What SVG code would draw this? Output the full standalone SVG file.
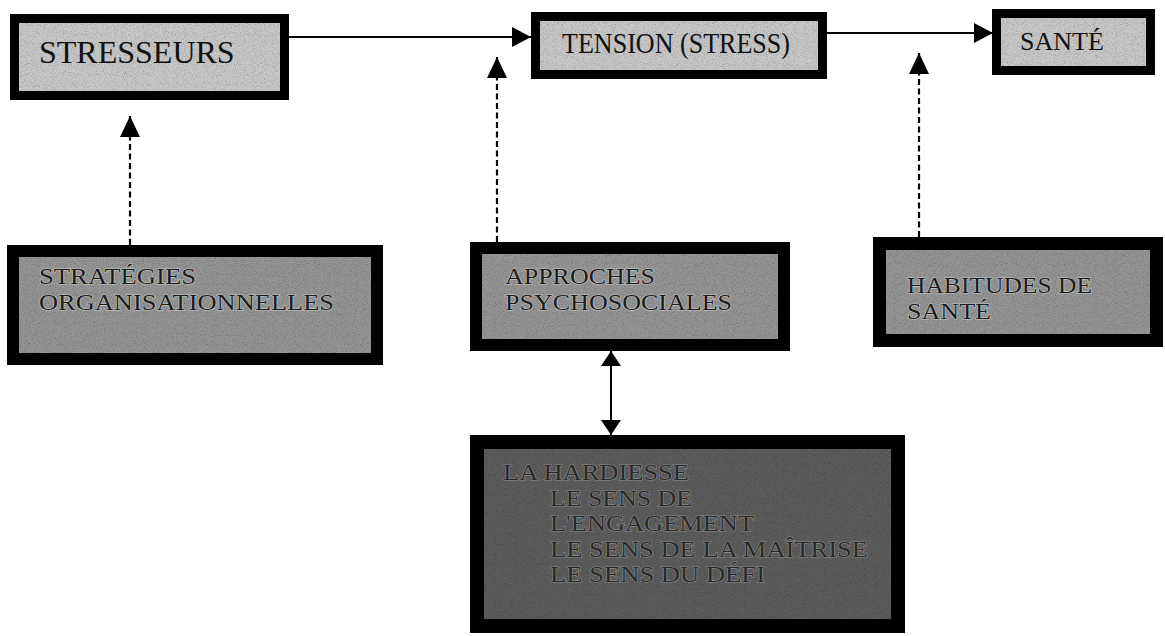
<svg xmlns="http://www.w3.org/2000/svg" width="1165" height="636" viewBox="0 0 1165 636">
<style>
.bg{fill:#ffffff}
.light{fill:#c8c8c8;filter:url(#grain)}
.mid{fill:#959595;filter:url(#grain)}
.dark{fill:#5c5c5c;filter:url(#grain)}
.frame{fill:none;stroke:#000}
.t1{font-family:"Liberation Serif","Times New Roman",serif;fill:#111}
.t2{font-family:"Liberation Serif","Times New Roman",serif;font-size:23px;fill:#1c1c1c;stroke:#c4c4c4;stroke-width:1.2;paint-order:stroke fill}
.t3{font-family:"Liberation Serif","Times New Roman",serif;font-size:23px;fill:#2a2a2a;stroke:#8a8a8a;stroke-width:1.2;paint-order:stroke fill}
.solid{fill:none;stroke:#000;stroke-width:2}
.dash{fill:none;stroke:#000;stroke-width:2.2;stroke-dasharray:6 3.5}
</style>
<defs>
<filter id="grain" x="0" y="0" width="1" height="1" color-interpolation-filters="sRGB">
<feTurbulence type="fractalNoise" baseFrequency="1.1" numOctaves="1" seed="4" result="n"/>
<feColorMatrix in="n" type="matrix" values="0.33 0.33 0.33 0 0.48  0.33 0.33 0.33 0 0.48  0.33 0.33 0.33 0 0.48  0 0 0 0 1" result="g"/>
<feBlend in="g" in2="SourceGraphic" mode="multiply" result="b"/>
<feComposite in="b" in2="SourceGraphic" operator="in"/>
</filter>
<marker id="ah" viewBox="0 0 19 20" markerWidth="19" markerHeight="20" refX="19" refY="10" orient="auto" markerUnits="userSpaceOnUse">
<path d="M0,0 L19,10 L0,20 Z" fill="#000"/>
</marker>
<marker id="av" viewBox="0 0 21 20" markerWidth="21" markerHeight="20" refX="21" refY="10" orient="auto" markerUnits="userSpaceOnUse">
<path d="M0,0 L21,10 L0,20 Z" fill="#000"/>
</marker>
<marker id="ad" viewBox="0 0 15 20" markerWidth="15" markerHeight="20" refX="15" refY="10" orient="auto-start-reverse" markerUnits="userSpaceOnUse">
<path d="M0,0 L15,10 L0,20 Z" fill="#000"/>
</marker>
</defs>
<rect class="bg" x="0" y="0" width="1165" height="636"/>

<g id="connectors">
<line class="solid" x1="289" y1="37" x2="531" y2="37" marker-end="url(#ah)"/>
<line class="solid" x1="827" y1="33" x2="993" y2="33" marker-end="url(#ah)"/>
<line class="dash" x1="130" y1="245" x2="130" y2="116" marker-end="url(#av)"/>
<line class="dash" x1="497" y1="242" x2="497" y2="57" marker-end="url(#av)"/>
<line class="dash" x1="919" y1="237" x2="919" y2="53" marker-end="url(#av)"/>
<line class="solid" x1="611" y1="351" x2="611" y2="435" marker-start="url(#ad)" marker-end="url(#ad)"/>
</g>

<g id="stresseurs">
<rect class="light" x="10" y="14" width="279" height="86"/>
<rect class="frame" x="14.5" y="18.5" width="270" height="77" stroke-width="9"/>
<text class="t1" x="39" y="63" font-size="32">STRESSEURS</text>
</g>

<g id="tension">
<rect class="light" x="531" y="12" width="296" height="67"/>
<rect class="frame" x="535.5" y="16.5" width="287" height="58" stroke-width="9"/>
<text class="t1" x="562" y="53" font-size="29" textLength="228" lengthAdjust="spacingAndGlyphs">TENSION (STRESS)</text>
</g>

<g id="sante">
<rect class="light" x="992" y="9" width="163" height="66"/>
<rect class="frame" x="996.5" y="13.5" width="154" height="57" stroke-width="9"/>
<text class="t1" x="1020" y="50" font-size="26">SANTÉ</text>
</g>

<g id="strategies">
<rect class="mid" x="7" y="245" width="376" height="120"/>
<rect class="frame" x="13" y="251" width="364" height="108" stroke-width="12"/>
<text class="t2" x="39" y="284" textLength="157" lengthAdjust="spacingAndGlyphs">STRATÉGIES</text>
<text class="t2" x="39" y="309.5" textLength="295" lengthAdjust="spacingAndGlyphs">ORGANISATIONNELLES</text>
</g>

<g id="approches">
<rect class="mid" x="470" y="242" width="320" height="109"/>
<rect class="frame" x="476" y="248" width="308" height="97" stroke-width="12"/>
<text class="t2" x="505" y="284" textLength="150" lengthAdjust="spacingAndGlyphs">APPROCHES</text>
<text class="t2" x="505" y="309.5" textLength="227" lengthAdjust="spacingAndGlyphs">PSYCHOSOCIALES</text>
</g>

<g id="habitudes">
<rect class="mid" x="873" y="237" width="290" height="110"/>
<rect class="frame" x="879.5" y="243.5" width="277" height="97" stroke-width="13"/>
<text class="t2" x="907" y="293" textLength="185" lengthAdjust="spacingAndGlyphs">HABITUDES DE</text>
<text class="t2" x="907" y="318.5" textLength="84" lengthAdjust="spacingAndGlyphs">SANTÉ</text>
</g>

<g id="hardiesse">
<rect class="dark" x="470" y="435" width="435" height="198"/>
<rect class="frame" x="477" y="442" width="421" height="184" stroke-width="14"/>
<text class="t3" x="503" y="480" textLength="186" lengthAdjust="spacingAndGlyphs">LA HARDIESSE</text>
<text class="t3" x="550" y="505.5" textLength="142" lengthAdjust="spacingAndGlyphs">LE SENS DE</text>
<text class="t3" x="550" y="531" textLength="204" lengthAdjust="spacingAndGlyphs">L'ENGAGEMENT</text>
<text class="t3" x="550" y="556.5" textLength="318" lengthAdjust="spacingAndGlyphs">LE SENS DE LA MAÎTRISE</text>
<text class="t3" x="550" y="582" textLength="215" lengthAdjust="spacingAndGlyphs">LE SENS DU DÉFI</text>
</g>
</svg>
